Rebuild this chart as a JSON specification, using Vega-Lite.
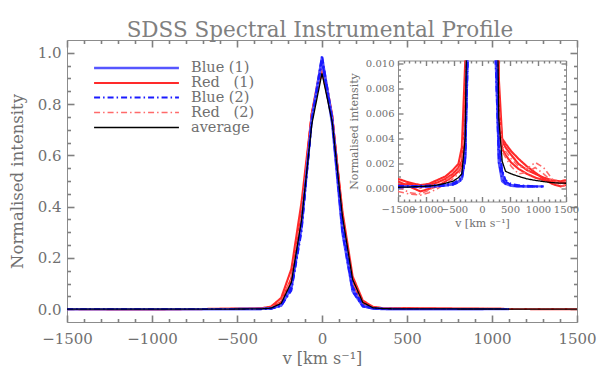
{
  "$schema": "https://vega.github.io/schema/vega-lite/v6.json",
  "padding": {"left": 8, "top": 20, "right": 0, "bottom": 0},
  "background": "white",
  "title": {"text": "SDSS Spectral Instrumental Profile", "fontSize": 21.5, "font": "DejaVu Serif", "fontWeight": "normal", "color": "#808080", "anchor": "start", "offset": -3, "dx": 118},
  "columns": 2,
  "align": "none",
  "spacing": -250,
  "datasets": {
    "groups": [
      {"s": "B1a", "g": "Blue (1)"}, {"s": "B1b", "g": "Blue (1)"},
      {"s": "R1a", "g": "Red   (1)"}, {"s": "R1b", "g": "Red   (1)"}, {"s": "R1c", "g": "Red   (1)"},
      {"s": "B2a", "g": "Blue (2)"}, {"s": "B2b", "g": "Blue (2)"}, {"s": "B2c", "g": "Blue (2)"},
      {"s": "R2a", "g": "Red   (2)"}, {"s": "R2b", "g": "Red   (2)"},
      {"s": "AVG", "g": "average"}
    ],
    "prof": [
      {"v": -1500, "B1a": 0.0002, "B1b": 0.00015, "B2a": 0.00025, "B2b": 0.0001, "B2c": 0.0002, "R1a": 0.0006, "R1b": 0.0003, "R1c": 0.0008, "R2a": -0.0002, "R2b": 0.0002, "AVG": 0.00013},
      {"v": -1300, "B1a": 0.0002, "B1b": 0.00018, "B2a": 0.00022, "B2b": 0.00015, "B2c": 0.00025, "R1a": 0.0002, "R1b": 0.0004, "R1c": 0.0005, "R2a": -0.0004, "R2b": -0.0003, "AVG": 0.00015},
      {"v": -1100, "B1a": 0.0002, "B1b": 0.0002, "B2a": 0.00025, "B2b": 0.00015, "B2c": 0.00022, "R1a": -0.0002, "R1b": 0.0001, "R1c": 0.0003, "R2a": -0.0005, "R2b": -0.0004, "AVG": 0.0002},
      {"v": -950, "B1a": 0.00022, "B1b": 0.0002, "B2a": 0.00025, "B2b": 0.00018, "B2c": 0.00025, "R1a": 0.0, "R1b": 0.0003, "R1c": 0.0004, "R2a": -0.0003, "R2b": -0.0001, "AVG": 0.00022},
      {"v": -800, "B1a": 0.00025, "B1b": 0.00022, "B2a": 0.0003, "B2b": 0.0002, "B2c": 0.00028, "R1a": 0.0002, "R1b": 0.0005, "R1c": 0.0007, "R2a": 0.0, "R2b": 0.0003, "AVG": 0.0003},
      {"v": -650, "B1a": 0.0003, "B1b": 0.00028, "B2a": 0.00035, "B2b": 0.00025, "B2c": 0.0003, "R1a": 0.0006, "R1b": 0.0008, "R1c": 0.001, "R2a": 0.0004, "R2b": 0.0007, "AVG": 0.00045},
      {"v": -520, "B1a": 0.0004, "B1b": 0.00036, "B2a": 0.00045, "B2b": 0.00033, "B2c": 0.0004, "R1a": 0.001, "R1b": 0.0012, "R1c": 0.0015, "R2a": 0.0008, "R2b": 0.0011, "AVG": 0.0006},
      {"v": -420, "B1a": 0.0006, "B1b": 0.00055, "B2a": 0.0007, "B2b": 0.0005, "B2c": 0.0006, "R1a": 0.0014, "R1b": 0.0017, "R1c": 0.002, "R2a": 0.0012, "R2b": 0.0015, "AVG": 0.0009},
      {"v": -360, "B1a": 0.0009, "B1b": 0.0008, "B2a": 0.001, "B2b": 0.00075, "B2c": 0.0009, "R1a": 0.0019, "R1b": 0.0022, "R1c": 0.0033, "R2a": 0.0016, "R2b": 0.002, "AVG": 0.0012},
      {"v": -300, "B1a": 0.0025, "B1b": 0.0026, "B2a": 0.0024, "B2b": 0.0022, "B2c": 0.0027, "R1a": 0.005, "R1b": 0.0061, "R1c": 0.01, "R2a": 0.004, "R2b": 0.0059, "AVG": 0.0041},
      {"v": -240, "B1a": 0.0139, "B1b": 0.0164, "B2a": 0.0122, "B2b": 0.0136, "B2c": 0.0163, "R1a": 0.0249, "R1b": 0.0288, "R1c": 0.044, "R2a": 0.0208, "R2b": 0.0281, "AVG": 0.0228},
      {"v": -180, "B1a": 0.081, "B1b": 0.09, "B2a": 0.072, "B2b": 0.08, "B2c": 0.089, "R1a": 0.112, "R1b": 0.121, "R1c": 0.157, "R2a": 0.099, "R2b": 0.12, "AVG": 0.105},
      {"v": -120, "B1a": 0.32, "B1b": 0.333, "B2a": 0.303, "B2b": 0.317, "B2c": 0.331, "R1a": 0.372, "R1b": 0.38, "R1c": 0.419, "R2a": 0.348, "R2b": 0.376, "AVG": 0.349},
      {"v": -60, "B1a": 0.744, "B1b": 0.742, "B2a": 0.737, "B2b": 0.736, "B2c": 0.738, "R1a": 0.764, "R1b": 0.761, "R1c": 0.762, "R2a": 0.748, "R2b": 0.753, "AVG": 0.721},
      {"v": 0, "B1a": 0.985, "B1b": 0.97, "B2a": 0.99, "B2b": 0.975, "B2c": 0.965, "R1a": 0.975, "R1b": 0.96, "R1c": 0.93, "R2a": 0.965, "R2b": 0.95, "AVG": 0.92},
      {"v": 60, "B1a": 0.744, "B1b": 0.722, "B2a": 0.747, "B2b": 0.725, "B2c": 0.738, "R1a": 0.756, "R1b": 0.753, "R1c": 0.745, "R2a": 0.757, "R2b": 0.736, "AVG": 0.73},
      {"v": 120, "B1a": 0.32, "B1b": 0.297, "B2a": 0.322, "B2b": 0.298, "B2c": 0.331, "R1a": 0.353, "R1b": 0.364, "R1c": 0.382, "R2a": 0.366, "R2b": 0.343, "AVG": 0.364},
      {"v": 180, "B1a": 0.08, "B1b": 0.07, "B2a": 0.081, "B2b": 0.068, "B2c": 0.089, "R1a": 0.101, "R1b": 0.11, "R1c": 0.128, "R2a": 0.11, "R2b": 0.098, "AVG": 0.116},
      {"v": 240, "B1a": 0.0129, "B1b": 0.011, "B2a": 0.014, "B2b": 0.0104, "B2c": 0.0163, "R1a": 0.0225, "R1b": 0.0261, "R1c": 0.0336, "R2a": 0.0257, "R2b": 0.0216, "AVG": 0.0264},
      {"v": 300, "B1a": 0.0021, "B1b": 0.0028, "B2a": 0.0034, "B2b": 0.0021, "B2c": 0.0037, "R1a": 0.0059, "R1b": 0.007, "R1c": 0.0088, "R2a": 0.0067, "R2b": 0.0056, "AVG": 0.0056},
      {"v": 360, "B1a": 0.0006, "B1b": 0.0012, "B2a": 0.0014, "B2b": 0.0008, "B2c": 0.0015, "R1a": 0.0032, "R1b": 0.0038, "R1c": 0.004, "R2a": 0.0034, "R2b": 0.003, "AVG": 0.0022},
      {"v": 420, "B1a": 0.0004, "B1b": 0.0005, "B2a": 0.0006, "B2b": 0.0004, "B2c": 0.0007, "R1a": 0.0027, "R1b": 0.0033, "R1c": 0.0036, "R2a": 0.003, "R2b": 0.0025, "AVG": 0.0014},
      {"v": 520, "B1a": 0.00025, "B1b": 0.0003, "B2a": 0.0003, "B2b": 0.00025, "B2c": 0.0004, "R1a": 0.0021, "R1b": 0.0027, "R1c": 0.003, "R2a": 0.0024, "R2b": 0.0018, "AVG": 0.0012},
      {"v": 650, "B1a": 0.0002, "B1b": 0.00022, "B2a": 0.00025, "B2b": 0.0002, "B2c": 0.0003, "R1a": 0.0016, "R1b": 0.002, "R1c": 0.0024, "R2a": 0.0018, "R2b": 0.0012, "AVG": 0.001},
      {"v": 800, "B1a": 0.0002, "B1b": 0.0002, "B2a": 0.0002, "B2b": 0.00018, "B2c": 0.00025, "R1a": 0.0012, "R1b": 0.0015, "R1c": 0.0018, "R2a": 0.0016, "R2b": 0.0013, "AVG": 0.0008},
      {"v": 950, "B1a": 0.0002, "B1b": 0.00018, "B2a": 0.0002, "B2b": 0.00018, "B2c": 0.00022, "R1a": 0.0009, "R1b": 0.0012, "R1c": 0.0013, "R2a": 0.0021, "R2b": 0.0017, "AVG": 0.00068},
      {"v": 1100, "B1a": 0.0002, "B1b": null, "B2a": 0.00018, "B2b": 0.0002, "B2c": null, "R1a": 0.0007, "R1b": 0.0009, "R1c": 0.0008, "R2a": 0.0017, "R2b": 0.0012, "AVG": 0.00058},
      {"v": 1250, "B1a": null, "B1b": null, "B2a": null, "B2b": null, "B2c": null, "R1a": 0.0006, "R1b": 0.0007, "R1c": 0.0004, "R2a": 0.0008, "R2b": 0.0006, "AVG": 0.0005},
      {"v": 1400, "B1a": null, "B1b": null, "B2a": null, "B2b": null, "B2c": null, "R1a": 0.0005, "R1b": 0.0006, "R1c": 0.0002, "R2a": 0.0004, "R2b": 0.0003, "AVG": 0.00046},
      {"v": 1500, "B1a": null, "B1b": null, "B2a": null, "B2b": null, "B2c": null, "R1a": 0.0005, "R1b": 0.0007, "R1c": 0.0003, "R2a": 0.0002, "R2b": 0.0001, "AVG": 0.00045}
    ]
  },
  "config": {
    "font": "DejaVu Serif",
    "view": {"stroke": "#8c8c8c", "strokeWidth": 1},
    "axis": {"labelColor": "#707070", "titleColor": "#707070", "labelFont": "DejaVu Serif", "titleFont": "DejaVu Serif", "titleFontWeight": "normal", "grid": false, "domain": false, "ticks": true, "labelFlush": false, "labelOverlap": false},
    "legend": {"labelFont": "DejaVu Serif", "labelColor": "#707070"}
  },
  "concat": [
    {
      "width": 510,
      "height": 282,
      "layer": [
        {
          "mark": {"type": "rule", "color": "#666", "strokeDash": [5, 4], "strokeWidth": 1},
          "encoding": {
            "x": {"datum": -1500, "type": "quantitative", "scale": {"domain": [-1500, 1500], "nice": false, "zero": false},
              "axis": {"orient": "bottom", "values": [-1500, -1000, -500, 0, 500, 1000, 1500], "format": "d", "offset": -7, "tickSize": 7, "tickColor": "#808080", "tickWidth": 1.6, "labelPadding": 9, "labelFontSize": 15, "title": "v [km s⁻¹]", "titleFontSize": 16, "titlePadding": 4}},
            "x2": {"datum": 1500},
            "y": {"datum": 0, "type": "quantitative", "scale": {"domain": [-0.05, 1.05], "nice": false, "zero": false},
              "axis": {"orient": "left", "values": [0, 0.2, 0.4, 0.6, 0.8, 1.0], "format": ".1f", "offset": -7, "tickSize": 7, "tickColor": "#808080", "tickWidth": 1.6, "labelPadding": 6, "labelFontSize": 15, "title": "Normalised intensity", "titleFontSize": 16.5, "titlePadding": 12}}
          }
        },
        {
          "data": {"name": "prof"},
          "transform": [
            {"fold": ["R1a", "R1b", "R1c", "R2a", "R2b", "B1a", "B1b", "B2a", "B2b", "B2c"], "as": ["s", "y"]},
            {"lookup": "s", "from": {"data": {"name": "groups"}, "key": "s", "fields": ["g"]}}
          ],
          "mark": {"type": "line", "clip": true},
          "encoding": {
            "x": {"field": "v", "type": "quantitative", "scale": {"domain": [-1500, 1500], "nice": false, "zero": false},
              "axis": {"orient": "top", "values": [-1500, -1000, -500, 0, 500, 1000, 1500], "offset": -7, "tickSize": 7, "tickColor": "#808080", "tickWidth": 1.6, "labels": false, "title": null}},
            "y": {"field": "y", "type": "quantitative", "scale": {"domain": [-0.05, 1.05], "nice": false, "zero": false},
              "axis": {"orient": "right", "values": [0, 0.2, 0.4, 0.6, 0.8, 1.0], "offset": -7, "tickSize": 7, "tickColor": "#808080", "tickWidth": 1.6, "labels": false, "title": null}},
            "detail": {"field": "s"},
            "color": {"field": "g", "type": "nominal", "scale": {"domain": ["Blue (1)", "Red   (1)", "Blue (2)", "Red   (2)", "average"], "range": ["#5656ff", "#ff2a2a", "#1a1aff", "#ff6a6a", "#000000"]},
              "legend": {"title": null, "orient": "none", "legendX": 61, "legendY": 19.5, "symbolType": "M-6,0H6", "symbolSize": 200, "labelFontSize": 14.5, "symbolOffset": 0, "padding": 0, "labelOffset": 46, "rowPadding": -1.5, "symbolStrokeWidth": 2,
                "labelExpr": "replace(datum.label, '   ', '\u00a0\u00a0\u00a0')"}},
            "strokeDash": {"field": "g", "type": "nominal", "scale": {"domain": ["Blue (1)", "Red   (1)", "Blue (2)", "Red   (2)", "average"], "range": [[1, 0], [1, 0], [6, 3, 1.5, 3], [6, 3, 1.5, 3], [1, 0]]}, "legend": {"title": null}},
            "strokeWidth": {"field": "g", "type": "nominal", "scale": {"domain": ["Blue (1)", "Red   (1)", "Blue (2)", "Red   (2)", "average"], "range": [2.4, 1.3, 1.4, 1.3, 2]}, "legend": null}
          }
        },
        {
          "data": {"name": "prof"},
          "transform": [
            {"fold": ["AVG"], "as": ["s", "y"]},
            {"lookup": "s", "from": {"data": {"name": "groups"}, "key": "s", "fields": ["g"]}}
          ],
          "mark": {"type": "line", "clip": true},
          "encoding": {
            "x": {"field": "v", "type": "quantitative", "scale": {"domain": [-1500, 1500], "nice": false, "zero": false},
              "axis": {"orient": "bottom", "values": [-1400, -1300, -1200, -1100, -900, -800, -700, -600, -400, -300, -200, -100, 100, 200, 300, 400, 600, 700, 800, 900, 1100, 1200, 1300, 1400], "offset": -3.5, "tickSize": 3.5, "tickColor": "#808080", "tickWidth": 1.6, "labels": false, "title": null}},
            "y": {"field": "y", "type": "quantitative", "scale": {"domain": [-0.05, 1.05], "nice": false, "zero": false},
              "axis": {"orient": "left", "values": [0.05, 0.1, 0.15, 0.25, 0.3, 0.35, 0.45, 0.5, 0.55, 0.65, 0.7, 0.75, 0.85, 0.9, 0.95], "offset": -3.5, "tickSize": 3.5, "tickColor": "#808080", "tickWidth": 1.6, "labels": false, "title": null}},
            "detail": {"field": "s"},
            "color": {"field": "g", "type": "nominal", "scale": {"domain": ["Blue (1)", "Red   (1)", "Blue (2)", "Red   (2)", "average"], "range": ["#5656ff", "#ff2a2a", "#1a1aff", "#ff6a6a", "#000000"]}},
            "strokeDash": {"field": "g", "type": "nominal", "scale": {"domain": ["Blue (1)", "Red   (1)", "Blue (2)", "Red   (2)", "average"], "range": [[1, 0], [1, 0], [6, 3, 1.5, 3], [6, 3, 1.5, 3], [1, 0]]}},
            "strokeWidth": {"field": "g", "type": "nominal", "scale": {"domain": ["Blue (1)", "Red   (1)", "Blue (2)", "Red   (2)", "average"], "range": [2.4, 1.3, 1.4, 1.3, 2]}, "legend": null}
          }
        },
        {
          "mark": {"type": "rule", "opacity": 0},
          "encoding": {
            "x": {"datum": -1500, "type": "quantitative", "scale": {"domain": [-1500, 1500], "nice": false, "zero": false},
              "axis": {"orient": "top", "values": [-1400, -1300, -1200, -1100, -900, -800, -700, -600, -400, -300, -200, -100, 100, 200, 300, 400, 600, 700, 800, 900, 1100, 1200, 1300, 1400], "offset": -3.5, "tickSize": 3.5, "tickColor": "#808080", "tickWidth": 1.6, "labels": false, "title": null}},
            "x2": {"datum": 1500},
            "y": {"datum": 0, "type": "quantitative", "scale": {"domain": [-0.05, 1.05], "nice": false, "zero": false},
              "axis": {"orient": "right", "values": [0.05, 0.1, 0.15, 0.25, 0.3, 0.35, 0.45, 0.5, 0.55, 0.65, 0.7, 0.75, 0.85, 0.9, 0.95], "offset": -3.5, "tickSize": 3.5, "tickColor": "#808080", "tickWidth": 1.6, "labels": false, "title": null}}
          }
        }
      ]
    },
    {
      "spacing": 16.5,
      "vconcat": [
        {
          "width": 1,
          "height": 1,
          "view": {"stroke": null},
          "mark": {"type": "rule", "opacity": 0},
          "encoding": {}
        },
        {
          "width": 168,
          "height": 141,
          "view": {"fill": "white", "stroke": "#8c8c8c"},
          "layer": [
            {
              "mark": {"type": "rule", "color": "#555", "strokeDash": [5, 3], "strokeWidth": 1},
              "encoding": {
                "x": {"datum": -1500, "type": "quantitative", "scale": {"domain": [-1500, 1500], "nice": false, "zero": false},
                  "axis": {"orient": "bottom", "values": [-1500, -1000, -500, 0, 500, 1000, 1500], "format": "d", "offset": -5, "tickSize": 5, "tickColor": "#808080", "tickWidth": 1.4, "labelPadding": 3, "labelFontSize": 10, "title": "v [km s⁻¹]", "titleFontSize": 11, "titlePadding": 3}},
                "x2": {"datum": 1500},
                "y": {"datum": 0, "type": "quantitative", "scale": {"domain": [-0.001, 0.0102], "nice": false, "zero": false},
                  "axis": {"orient": "left", "values": [0, 0.002, 0.004, 0.006, 0.008, 0.01], "format": ".3f", "offset": -5, "tickSize": 5, "tickColor": "#808080", "tickWidth": 1.4, "labelPadding": 4, "labelFontSize": 10, "title": "Normalised intensity", "titleFontSize": 11, "titlePadding": 6}}
              }
            },
            {
              "data": {"name": "prof"},
              "transform": [
                {"fold": ["R1a", "R1b", "R1c", "R2a", "R2b", "B1a", "B1b", "B2a", "B2b", "B2c"], "as": ["s", "y"]},
                {"lookup": "s", "from": {"data": {"name": "groups"}, "key": "s", "fields": ["g"]}}
              ],
              "mark": {"type": "line", "clip": true},
              "encoding": {
                "x": {"field": "v", "type": "quantitative", "scale": {"domain": [-1500, 1500], "nice": false, "zero": false},
                  "axis": {"orient": "top", "values": [-1500, -1000, -500, 0, 500, 1000, 1500], "offset": -5, "tickSize": 5, "tickColor": "#808080", "tickWidth": 1.4, "labels": false, "title": null}},
                "y": {"field": "y", "type": "quantitative", "scale": {"domain": [-0.001, 0.0102], "nice": false, "zero": false},
                  "axis": {"orient": "right", "values": [0, 0.002, 0.004, 0.006, 0.008, 0.01], "offset": -5, "tickSize": 5, "tickColor": "#808080", "tickWidth": 1.4, "labels": false, "title": null}},
                "detail": {"field": "s"},
                "color": {"field": "g", "type": "nominal", "scale": {"domain": ["Blue (1)", "Red   (1)", "Blue (2)", "Red   (2)", "average"], "range": ["#5656ff", "#ff2a2a", "#1a1aff", "#ff6a6a", "#000000"]}, "legend": null},
                "strokeDash": {"field": "g", "type": "nominal", "scale": {"domain": ["Blue (1)", "Red   (1)", "Blue (2)", "Red   (2)", "average"], "range": [[1, 0], [1, 0], [6, 3, 1.5, 3], [6, 3, 1.5, 3], [1, 0]]}, "legend": null},
                "strokeWidth": {"field": "g", "type": "nominal", "scale": {"domain": ["Blue (1)", "Red   (1)", "Blue (2)", "Red   (2)", "average"], "range": [2.4, 1.1, 1.4, 1.1, 1.6]}, "legend": null}
              }
            },
            {
              "data": {"name": "prof"},
              "transform": [
                {"fold": ["AVG"], "as": ["s", "y"]},
                {"lookup": "s", "from": {"data": {"name": "groups"}, "key": "s", "fields": ["g"]}}
              ],
              "mark": {"type": "line", "clip": true},
              "encoding": {
                "x": {"field": "v", "type": "quantitative", "scale": {"domain": [-1500, 1500], "nice": false, "zero": false},
                  "axis": {"orient": "bottom", "values": [-1400, -1300, -1200, -1100, -900, -800, -700, -600, -400, -300, -200, -100, 100, 200, 300, 400, 600, 700, 800, 900, 1100, 1200, 1300, 1400], "offset": -2.5, "tickSize": 2.5, "tickColor": "#808080", "tickWidth": 1.4, "labels": false, "title": null}},
                "y": {"field": "y", "type": "quantitative", "scale": {"domain": [-0.001, 0.0102], "nice": false, "zero": false},
                  "axis": {"orient": "left", "values": [-0.0005, 0.0005, 0.001, 0.0015, 0.0025, 0.003, 0.0035, 0.0045, 0.005, 0.0055, 0.0065, 0.007, 0.0075, 0.0085, 0.009, 0.0095], "offset": -2.5, "tickSize": 2.5, "tickColor": "#808080", "tickWidth": 1.4, "labels": false, "title": null}},
                "detail": {"field": "s"},
                "color": {"field": "g", "type": "nominal", "scale": {"domain": ["Blue (1)", "Red   (1)", "Blue (2)", "Red   (2)", "average"], "range": ["#5656ff", "#ff2a2a", "#1a1aff", "#ff6a6a", "#000000"]}, "legend": null},
                "strokeDash": {"field": "g", "type": "nominal", "scale": {"domain": ["Blue (1)", "Red   (1)", "Blue (2)", "Red   (2)", "average"], "range": [[1, 0], [1, 0], [6, 3, 1.5, 3], [6, 3, 1.5, 3], [1, 0]]}, "legend": null},
                "strokeWidth": {"field": "g", "type": "nominal", "scale": {"domain": ["Blue (1)", "Red   (1)", "Blue (2)", "Red   (2)", "average"], "range": [2.4, 1.1, 1.4, 1.1, 1.6]}, "legend": null}
              }
            },
            {
              "mark": {"type": "rule", "opacity": 0},
              "encoding": {
                "x": {"datum": -1500, "type": "quantitative", "scale": {"domain": [-1500, 1500], "nice": false, "zero": false},
                  "axis": {"orient": "top", "values": [-1400, -1300, -1200, -1100, -900, -800, -700, -600, -400, -300, -200, -100, 100, 200, 300, 400, 600, 700, 800, 900, 1100, 1200, 1300, 1400], "offset": -2.5, "tickSize": 2.5, "tickColor": "#808080", "tickWidth": 1.4, "labels": false, "title": null}},
                "x2": {"datum": 1500},
                "y": {"datum": 0, "type": "quantitative", "scale": {"domain": [-0.001, 0.0102], "nice": false, "zero": false},
                  "axis": {"orient": "right", "values": [-0.0005, 0.0005, 0.001, 0.0015, 0.0025, 0.003, 0.0035, 0.0045, 0.005, 0.0055, 0.0065, 0.007, 0.0075, 0.0085, 0.009, 0.0095], "offset": -2.5, "tickSize": 2.5, "tickColor": "#808080", "tickWidth": 1.4, "labels": false, "title": null}}
              }
            }
          ]
        }
      ]
    }
  ]
}
